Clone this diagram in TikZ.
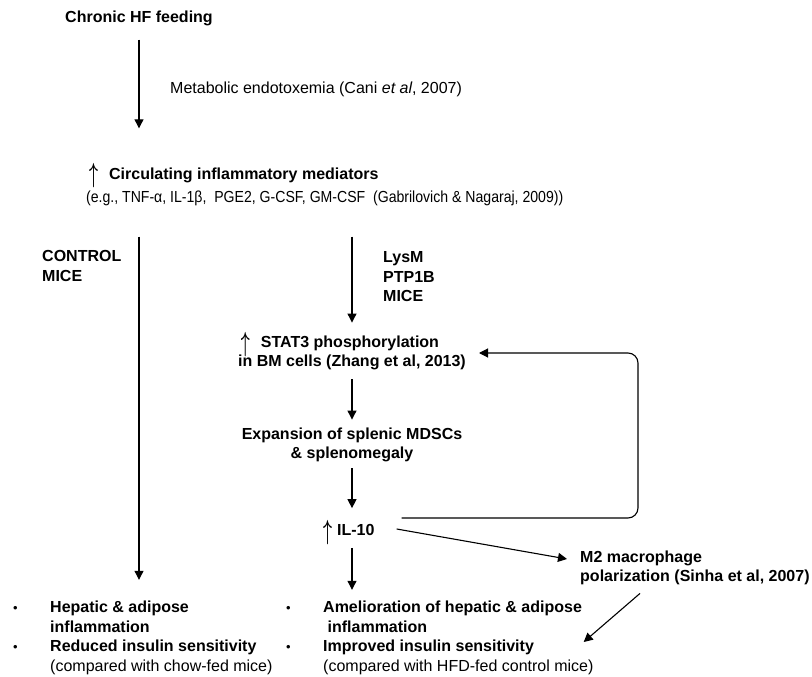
\documentclass[tikz,border=0pt]{standalone}
\usepackage{fontspec}
\setmainfont{Liberation Sans}
\usepackage{graphicx}
\usepackage{tikz}
\usetikzlibrary{arrows.meta}
\usetikzlibrary{positioning}
\usetikzlibrary{calc}

\newcommand{\hausse}{\smash{\raisebox{-0.45ex}{\scalebox{0.9}[1.6]{\boldmath$\uparrow$}}}}
\newcommand{\puce}{{\fontsize{13}{13}\selectfont\textbullet}}

\tikzstyle{titre}=[font=\fontsize{16}{19.5}\selectfont\bfseries,inner sep=0pt]
\tikzstyle{texte}=[font=\fontsize{16}{19.5}\selectfont,inner sep=0pt]
\tikzstyle{suite}=[-{Triangle[length=9pt,width=9pt]},line width=1.1pt]
\tikzstyle{retour}=[suite,rounded corners=10pt]

\begin{document}
\begin{tikzpicture}[x=1pt,y=-1pt]
\useasboundingbox (0,0) rectangle (812,677);
\node[titre] (feed) at (139,18) {Chronic HF feeding};
\node[texte,anchor=west] (endo) at (170,89) {Metabolic endotoxemia (Cani \textit{et al}, 2007)};
\node[titre,anchor=west] (circ) at (89,175) {\hausse\hspace{11pt}Circulating inflammatory mediators};
\node[texte,anchor=west] (eg) at (86,198) {\scalebox{0.88}[1]{(e.g., TNF-α, IL-1β,~ PGE2, G-CSF, GM-CSF~ (Gabrilovich \& Nagaraj, 2009))}};
\node[titre,anchor=west,align=left] (ctrl) at (42,266) {CONTROL\\MICE};
\node[titre,anchor=west,align=left] (lysm) at (383,277) {LysM\\PTP1B\\MICE};
\node[titre,align=center] (stat) at (352,353) {\hausse\hspace{11pt}STAT3 phosphorylation\hspace*{24pt}\\in BM cells (Zhang et al, 2013)};
\node[titre,align=center] (expa) at (352,445) {Expansion of splenic MDSCs\\\& splenomegaly};
\node[titre,anchor=west] (il10) at (323,530) {\hausse\hspace{5pt}IL-10};
\node[titre,anchor=west,align=left] (m2) at (580,568) {M2 macrophage\\polarization (Sinha et al, 2007)};
\node[texte,anchor=west] (resg) at (13,638) {\begin{tabular}{@{}p{37pt}@{}l@{}}
\puce & \textbf{Hepatic \& adipose}\\
 & \textbf{inflammation}\\
\puce & \textbf{Reduced insulin sensitivity}\\
 & (compared with chow-fed mice)
\end{tabular}};
\node[texte,anchor=west] (resd) at (286,638) {\begin{tabular}{@{}p{37pt}@{}l@{}}
\puce & \textbf{Amelioration of hepatic \& adipose}\\
 & \textbf{\ inflammation}\\
\puce & \textbf{Improved insulin sensitivity}\\
 & (compared with HFD-fed control mice)
\end{tabular}};
\coordinate (boucle) at (638,440);
%Placement des fleches
\draw[suite,shorten <=14pt,shorten >=39pt] (feed) -- (feed |- circ.north);
\draw[suite,shorten <=31pt,shorten >=19pt] (eg.south -| feed) -- (resg.north -| feed);
\draw[suite,shorten <=31pt,shorten >=13pt] (eg.south -| stat) -- (stat.north);
\draw[suite,shorten <=9pt,shorten >=8pt] (stat) -- (expa);
\draw[suite,shorten <=6pt,shorten >=16pt] (expa) -- (expa |- il10.north);
\draw[suite,shorten <=12pt,shorten >=9pt] (il10.south -| expa) -- (resd.north -| expa);
\draw[retour,shorten >=13pt] ([xshift=27pt,yshift=12pt]il10.east) -| (boucle) |- (stat.east);
\draw[suite] ([xshift=22pt,yshift=1pt]il10.east) -- ([xshift=-13pt,yshift=9pt]m2.west);
\draw[suite] ([xshift=60pt,yshift=-8pt]m2.south west) -- ([xshift=-10pt,yshift=-4pt]resd.east);
\end{tikzpicture}
\end{document}
